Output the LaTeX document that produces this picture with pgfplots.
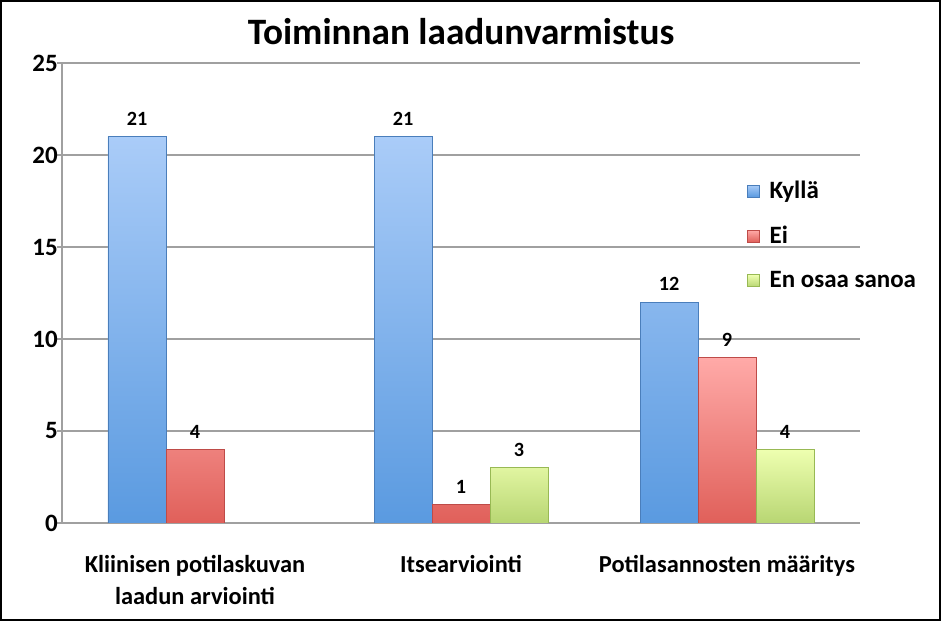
\documentclass[border=0pt]{standalone}
\usepackage{pgfplots}
\pgfplotsset{compat=1.18}
\usepackage{fontspec}
\setmainfont{Carlito}
\definecolor{bTop}{HTML}{AACCF8}
\definecolor{bBot}{HTML}{5A9AE0}
\definecolor{bEdge}{HTML}{4A7EBB}
\definecolor{rTop}{HTML}{FFAAA8}
\definecolor{rBot}{HTML}{E0605A}
\definecolor{rEdge}{HTML}{BE4B48}
\definecolor{gTop}{HTML}{EEFFB0}
\definecolor{gBot}{HTML}{B8D673}
\definecolor{gEdge}{HTML}{98B954}
\definecolor{gridc}{HTML}{A0A0A0}
\begin{document}
\begin{tikzpicture}[x=1cm,y=1cm]
\useasboundingbox (0,0) rectangle (18.82,12.42);
\begin{axis}[
  at={(1.24cm,1.96cm)}, anchor=south west,
  scale only axis, width=15.96cm, height=9.2cm,
  xmin=-0.5, xmax=2.5, ymin=0, ymax=25,
  ytick={0,5,10,15,20,25},
  xtick={0,1,2},
  xticklabels={{Kliinisen potilaskuvan\\laadun arviointi},Itsearviointi,Potilasannosten määritys},
  extra x ticks={-0.5,0.5,1.5,2.5},
  extra x tick labels={},
  extra x tick style={major tick length=0.14cm, tick style={gridc, line width=0.8pt}},
  axis x line*=bottom, axis y line*=left,
  axis line style={gridc, line width=0.8pt},
  x tick style={draw=none},
  y tick style={gridc, line width=0.8pt},
  major tick length=0.1cm,
  tick align=outside,
  ymajorgrids, grid style={gridc, line width=0.8pt},
  /pgf/number format/assume math mode=true,
  yticklabel style={font=\fontsize{14.2}{17}\selectfont\bfseries, xshift=0.14cm},
  xticklabel style={font=\fontsize{13.9}{18.2}\selectfont\bfseries, align=center, anchor=north, yshift=-0.42cm},
  title={Toiminnan laadunvarmistus},
  title style={font=\fontsize{21.2}{25}\selectfont\bfseries, anchor=base, at={(0.5,1)}, yshift=0.16cm},
  ybar=0pt, bar width=1.16cm,
  nodes near coords,
  every node near coord/.append style={font=\fontsize{11.5}{13}\selectfont\bfseries, text=black, yshift=0.1cm},
  every axis plot post/.append style={legend image code/.code={\path[##1] (0cm,-0.12cm) rectangle (0.24cm,0.12cm);}},
  legend style={at={(0.858,0.752)}, anchor=north west, draw=none, fill=none, inner sep=0pt,
    font=\fontsize{14.2}{17}\selectfont\bfseries, row sep=0.36cm, cells={anchor=west},
    nodes={inner xsep=0.2cm}},
]
\addplot[top color=bTop, bottom color=bBot, draw=bEdge, line width=0.4pt] coordinates {(0,21) (1,21) (2,12)};
\addplot[top color=rTop, bottom color=rBot, draw=rEdge, line width=0.4pt] coordinates {(0,4) (1,1) (2,9)};
\addplot[top color=gTop, bottom color=gBot, draw=gEdge, line width=0.4pt] coordinates {(1,3) (2,4)};
\legend{Kyllä, Ei, En osaa sanoa}
\end{axis}
\draw[black, line width=0.04cm] (0.02,0.02) rectangle (18.80,12.40);
\end{tikzpicture}
\end{document}
